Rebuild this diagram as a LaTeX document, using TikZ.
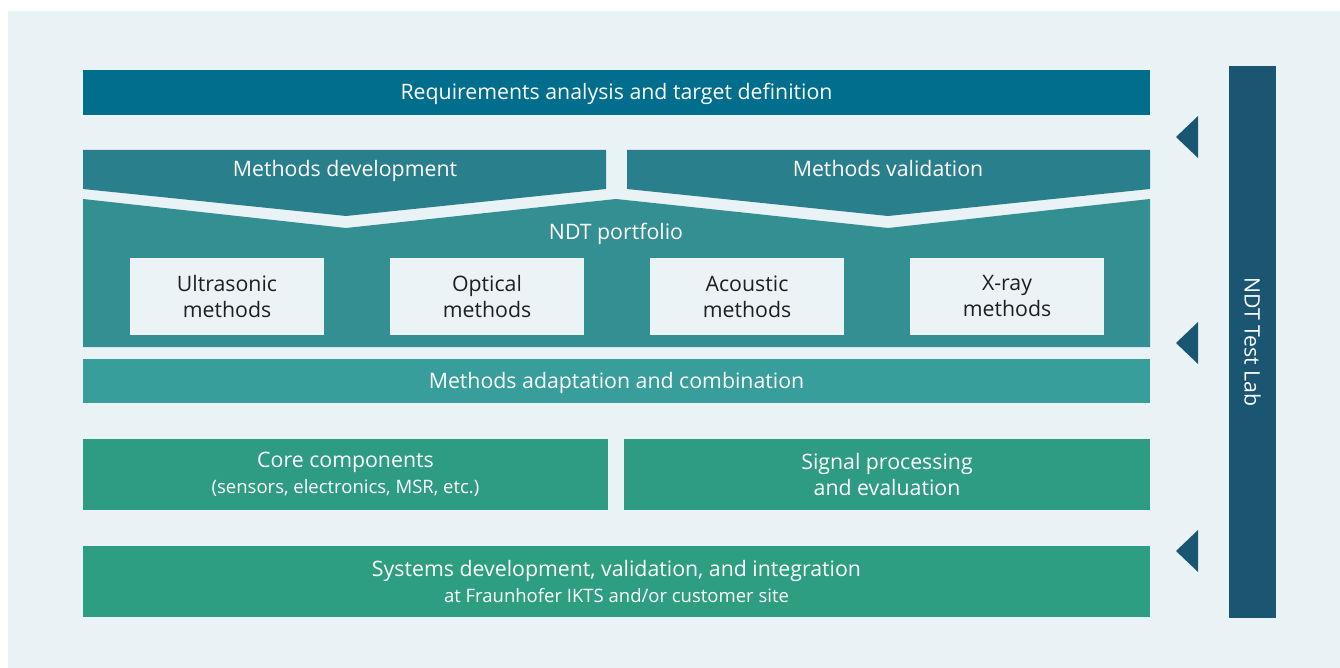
\documentclass[tikz,border=0pt]{standalone}
\usepackage{fontspec}
\setmainfont{Open Sans}
\usetikzlibrary{positioning}
\definecolor{bgcol}{HTML}{E9F2F5}
\definecolor{reqcol}{HTML}{006E8C}
\definecolor{devcol}{HTML}{2A7F8D}
\definecolor{portcol}{HTML}{338F91}
\definecolor{adaptcol}{HTML}{389E9B}
\definecolor{corecol}{HTML}{2E9C82}
\definecolor{syscol}{HTML}{2E9E80}
\definecolor{labcol}{HTML}{1A5672}
\definecolor{boxcol}{HTML}{EBF3F6}
\newcommand{\subfont}{\fontsize{18.5}{26}\selectfont}
\tikzset{font=\fontsize{21.3}{26}\selectfont}
\tikzset{every node/.append style={inner sep=0pt, outer sep=0pt}}
\tikzset{title/.style={anchor=base, text=white}}
\tikzset{bar/.style={minimum height=45pt}}
\tikzset{tallbar/.style={align=center, minimum height=71pt, text=white}}
\tikzset{method/.style={align=center, fill=boxcol, minimum width=194pt, minimum height=77pt, text=black!88}}
\tikzset{marker/.style={fill=labcol}}

\begin{document}
\begin{tikzpicture}[x=1pt, y=-1pt]
\useasboundingbox (0,0) rectangle (1340,668);
\fill[bgcol] (8,11) rectangle (1340,668);
% top
\node[bar, fill=reqcol, minimum width=1067pt] (req) at (616.5,92.5) {};
\node[title] (reqtxt) at (616.5,99.5) {Requirements analysis and target definition};
% development and validation
\fill[devcol] (83,150) -- (606,150) -- (606,189) -- (346,216) -- (83,189) -- cycle;
\fill[devcol] (627,150) -- (1150,150) -- (1150,189) -- (888,216) -- (627,189) -- cycle;
\node[title] (dev) at (345,177) {Methods development};
\node[title] (val) at (888,177) {Methods validation};
% portfolio
\fill[portcol] (83,199) -- (346,228) -- (616,199) -- (888,228) -- (1150,199) -- (1150,347) -- (83,347) -- cycle;
\node[title] (port) at (616,240) {NDT portfolio};
\node[method] (ultra) at (227,296.5) {Ultrasonic\\methods};
\node[method, right=66pt of ultra] (opt) {Optical\\methods};
\node[method, right=66pt of opt] (acou) {Acoustic\\methods};
\node[method, right=66pt of acou] (xray) {X-ray\\methods};
% adaptation
\node[bar, fill=adaptcol, minimum width=1067pt, minimum height=44pt] (adapt) at (616.5,381) {};
\node[title] (adapttxt) at (616.5,388) {Methods adaptation and combination};
% components
\node[tallbar, fill=corecol, minimum width=525pt] (core) at (345.5,474.5) {Core components\\{\subfont (sensors, electronics, MSR, etc.)}};
\node[tallbar, fill=corecol, minimum width=526pt] (sig) at (887,474.5) {Signal processing\\and evaluation};
% systems
\node[tallbar, fill=syscol, minimum width=1067pt] (sys) at (616.5,581.5) {Systems development, validation, and integration\\{\subfont at Fraunhofer IKTS and/or customer site}};
% test lab
\node[fill=labcol, minimum width=47pt, minimum height=552pt] (lab) at (1252.5,342) {};
\node[text=white, rotate=-90] (labtxt) at (lab.center) {NDT Test Lab};
\foreach \yy in {137,343,551}
  \fill[marker] (1176,\yy) -- (1198,\yy-21) -- (1198,\yy+21) -- cycle;
\end{tikzpicture}
\end{document}
